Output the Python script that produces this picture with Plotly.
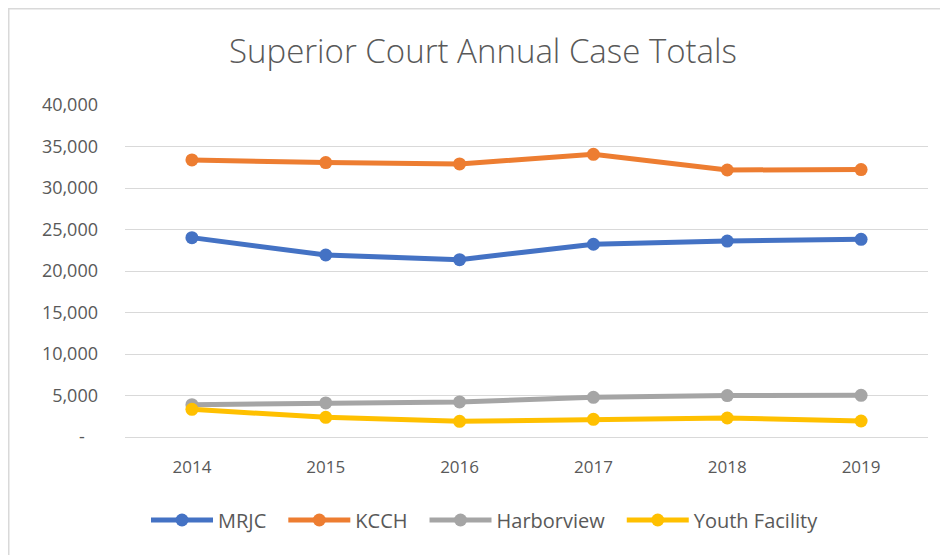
import plotly.graph_objects as go

years = ["2014", "2015", "2016", "2017", "2018", "2019"]
mrjc = [24020, 21930, 21370, 23220, 23610, 23820]
kcch = [33380, 33060, 32900, 34060, 32170, 32220]
harborview = [3900, 4100, 4220, 4780, 4990, 5020]
youth = [3340, 2370, 1890, 2130, 2290, 1930]

series_names = ["MRJC", "KCCH", "Harborview", "Youth Facility"]
series_values = [mrjc, kcch, harborview, youth]
colors = ["#4472C4", "#ED7D31", "#A5A5A5", "#FFC000"]

y_tickvals = [0, 5000, 10000, 15000, 20000, 25000, 30000, 35000, 40000]
y_ticktext = ["-\u2007\u2009", "5,000", "10,000", "15,000", "20,000", "25,000", "30,000", "35,000", "40,000"]

FONT = "Open Sans"
GREY = "#595959"

fig = go.Figure()
for i, (name, vals, col) in enumerate(zip(series_names, series_values, colors)):
    pad = "\u2002\u200a" if i < len(series_names) - 1 else ""
    fig.add_trace(go.Scatter(
        x=years, y=vals, name=name + pad, mode="lines+markers",
        line=dict(color=col, width=5),
        marker=dict(color=col, size=13),
    ))

# page body has an 8px margin, so the figure is laid out 8px smaller
W, H = 940, 547
L, R, T, B = 117, 20, 97, 118
pw, ph = W - L - R, H - T - B

def px_x(p):
    return (p - L) / pw

def px_y(p):
    return (H - B - p) / ph

fig.update_layout(
    width=W, height=H,
    margin=dict(l=L, r=R, t=T, b=B, autoexpand=False),
    paper_bgcolor="white", plot_bgcolor="white",
    font=dict(family=FONT, color=GREY, size=18),
    title=dict(text="Superior Court Annual Case Totals", x=475 / W, xanchor="center",
               y=1 - 43 / H, yanchor="middle",
               font=dict(family=FONT, size=33, color=GREY, weight=300)),
    xaxis=dict(type="category", range=[-0.5, 5.5], showgrid=False, zeroline=False,
               showline=False, ticks="", tickfont=dict(size=17, color=GREY),
               ticklabelstandoff=18),
    yaxis=dict(range=[0, 40000], tickvals=y_tickvals, ticktext=y_ticktext,
               showgrid=True, gridcolor="#D9D9D9", gridwidth=1,
               zeroline=True, zerolinecolor="#D9D9D9", zerolinewidth=1,
               showline=False, ticks="", tickfont=dict(size=18, color=GREY),
               ticklabelstandoff=26),
    legend=dict(orientation="h", x=477 / W, xref="container", xanchor="center",
                y=1 - 512 / H, yref="container", yanchor="middle",
                font=dict(size=20, color=GREY), itemwidth=62,
                bgcolor="rgba(0,0,0,0)"),
    showlegend=True,
    shapes=[dict(type="rect", xref="paper", yref="paper",
                 x0=px_x(0.75), x1=px_x(970), y0=px_y(580), y1=px_y(0.75),
                 line=dict(color="#D9D9D9", width=1.5), fillcolor="rgba(0,0,0,0)",
                 layer="below")],
)

fig.write_html("out.html")
